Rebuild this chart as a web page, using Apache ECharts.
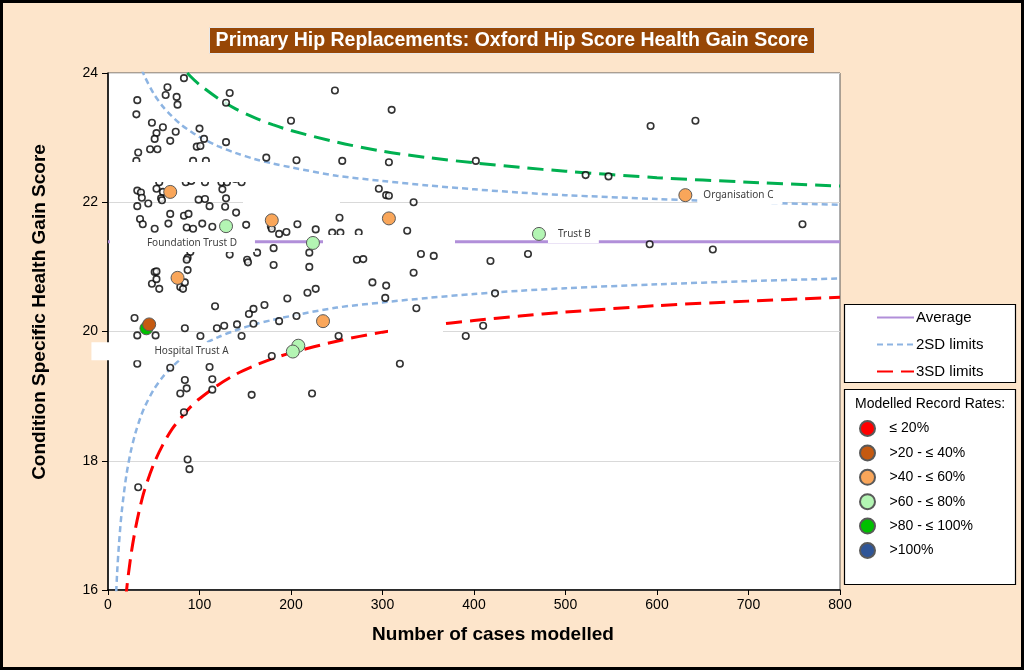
<!DOCTYPE html>
<html>
<head>
<meta charset="utf-8">
<script src="https://cdn.jsdelivr.net/npm/echarts@6/dist/echarts.min.js"></script>
<style>
html,body{margin:0;padding:0;background:#FDE5CB;}
#chart{width:1024px;height:670px;}
</style>
</head>
<body>
<div id="chart"></div>
<script>
// ---------- DATA ----------
const titleText = 'Primary Hip Replacements: Oxford Hip Score Health Gain Score';
const xAxisTitle = 'Number of cases modelled';
const yAxisTitle = 'Condition Specific Health Gain Score';
const xTicks = [0, 100, 200, 300, 400, 500, 600, 700, 800];
const yTicks = [16, 18, 20, 22, 24];

// all organisations (hollow markers)
const trustCases = [83,65,63,75,76,32,31,133,129,248,48,60,53,74,51,68,100,105,97,101,129,33,46,54,200,173,206,256,310,307,402,522,547,593,642,31,93,107,56,85,91,106,124,130,139,146,296,304,307,334,32,36,53,60,37,58,59,44,32,99,106,125,129,111,128,68,83,88,140,35,38,66,103,51,86,93,114,151,178,179,187,195,207,227,253,327,245,254,274,759,459,592,661,418,90,87,133,163,181,220,86,152,153,181,220,272,279,342,356,334,289,304,303,337,319,87,51,53,48,53,56,79,82,84,117,218,227,196,171,159,154,206,187,159,141,127,119,84,29,32,52,101,146,252,179,32,68,111,84,86,79,114,114,157,223,83,87,89,33,410,391,423];
const trustScores = [23.92,23.78,23.66,23.63,23.51,23.58,23.36,23.69,23.54,23.73,23.23,23.16,23.07,23.09,22.98,22.95,23.14,22.98,22.86,22.87,22.93,22.77,22.82,22.82,23.26,22.69,22.65,22.64,23.43,22.62,22.64,22.42,22.40,23.18,23.26,22.64,22.64,22.64,22.31,22.31,22.33,22.31,22.31,22.31,22.36,22.31,22.21,22.11,22.10,22.00,22.18,22.15,22.21,22.16,22.07,22.06,22.03,21.98,21.94,22.04,22.05,22.20,22.06,21.94,21.93,21.82,21.79,21.82,21.84,21.74,21.66,21.67,21.67,21.59,21.61,21.59,21.62,21.65,21.63,21.59,21.51,21.54,21.66,21.58,21.76,21.56,21.53,21.53,21.53,21.66,21.20,21.35,21.27,21.09,21.23,21.14,21.19,21.22,21.29,21.22,21.11,21.11,21.07,21.03,21.00,21.11,21.12,21.20,21.17,20.91,20.76,20.71,20.52,20.36,19.50,20.95,20.92,20.93,20.74,20.81,20.66,20.69,20.66,20.76,20.39,20.60,20.66,20.51,20.41,20.35,20.27,20.24,20.16,20.12,20.11,20.09,20.05,20.05,20.21,19.94,19.94,19.93,19.93,19.93,19.62,19.50,19.44,19.45,19.25,19.12,19.04,19.26,19.10,19.02,19.04,18.75,18.02,17.87,17.59,20.09,19.93,20.59];

// highlighted organisations by modelled record rate
const rateNames = ['\u2264 20%', '>20 - \u2264 40%', '>40 - \u2264 60%', '>60 - \u2264 80%', '>80 - \u2264 100%', '>100%'];
const rateColors = ['#FF0000', '#C55A11', '#F9A65A', '#B3F5B3', '#00C000', '#2F5597'];
const rate20Cases = [];            const rate20Scores = [];
const rate40Cases = [45];          const rate40Scores = [20.11];
const rate60Cases = [68,179,307,631,76,235]; const rate60Scores = [22.16,21.72,21.75,22.11,20.83,20.16];
const rate80Cases = [129,224,471,208,202];   const rate80Scores = [21.63,21.37,21.51,19.78,19.69];
const rate100Cases = [42];         const rate100Scores = [20.05];
const rateOverCases = [];          const rateOverScores = [];

// named organisations: [label, rate group index, index within group]
const namedOrgs = [
  ['Foundation Trust D', 3, 1],
  ['Trust B', 3, 2],
  ['Organisation C', 2, 3],
  ['Hospital Trust A', 4, 0]
];

// average and control limits
const avgCases = [0, 800];
const avgScores = [21.39, 21.39];
const sd2LowCases = [8,10,12,15,20,25,30,35,40,50,60,70,80,90,100,120,140,160,180,200,250,300,350,400,450,500,600,700,800];
const sd2LowScores = [15.66,16.27,16.71,17.21,17.77,18.15,18.43,18.65,18.83,19.10,19.30,19.45,19.58,19.68,19.77,19.91,20.02,20.11,20.18,20.24,20.37,20.45,20.52,20.58,20.63,20.67,20.73,20.78,20.82];
const sd2UpCases = [30,35,40,50,60,70,80,90,100,120,140,160,180,200,250,300,350,400,450,500,600,700,800];
const sd2UpScores = [24.35,24.13,23.95,23.68,23.48,23.33,23.20,23.10,23.01,22.87,22.76,22.67,22.60,22.54,22.41,22.33,22.26,22.20,22.15,22.11,22.05,22.00,21.96];
const sd3LowCases = [15,20,25,30,35,40,50,60,70,80,90,100,120,140,160,180,200,250,300,350,400,450,500,600,700,800];
const sd3LowScores = [15.12,15.96,16.53,16.95,17.28,17.55,17.95,18.25,18.49,18.67,18.83,18.96,19.17,19.34,19.47,19.58,19.67,19.85,19.99,20.09,20.17,20.24,20.30,20.40,20.47,20.53];
const sd3UpCases = [70,80,90,100,120,140,160,180,200,250,300,350,400,450,500,600,700,800];
const sd3UpScores = [24.29,24.11,23.95,23.82,23.61,23.44,23.31,23.20,23.11,22.93,22.79,22.69,22.61,22.54,22.48,22.38,22.31,22.25];

// ---------- BUILD ----------
const zip = (a, b) => a.map((v, i) => [v, b[i]]);
const rateData = [
  zip(rate20Cases, rate20Scores), zip(rate40Cases, rate40Scores), zip(rate60Cases, rate60Scores),
  zip(rate80Cases, rate80Scores), zip(rate100Cases, rate100Scores), zip(rateOverCases, rateOverScores)
];
const F = 'Liberation Sans, Arial, sans-serif';
const labelBase = {show: true, color: '#404040', fontSize: 10, fontFamily: 'Noto Sans, sans-serif', backgroundColor: '#fff'};
const labelStyles = {
  'Foundation Trust D': {position: 'left', distance: 51, padding: [4, 18, 4, 37]},
  'Trust B': {position: 'right', distance: 2, padding: [4, 8, 4, 10]},
  'Organisation C': {position: 'right', distance: 5, padding: [4, 9, 4, 6]},
  'Hospital Trust A': {position: [-48, 21], align: 'left', verticalAlign: 'top', padding: [4, 8, 4, 63]}
};
const rateSeriesData = rateData.map(d => d.map(p => ({value: p})));
namedOrgs.forEach(([name, g, i]) => {
  rateSeriesData[g][i].label = Object.assign({}, labelBase, labelStyles[name], {formatter: name});
});

const lineSeries = (name, cases, scores, color, type, width) => ({
  name, type: 'line', data: zip(cases, scores), symbol: 'none', smooth: 0.3,
  lineStyle: {color, type, width}, itemStyle: {color}, z: 2, silent: true, clip: true
});

const series = [
  lineSeries('Average', avgCases, avgScores, '#B18FD9', 'solid', 3),
  lineSeries('2SD limits', sd2LowCases, sd2LowScores, '#8DB4E2', [6, 4], 2.5),
  lineSeries('2SD limits', sd2UpCases, sd2UpScores, '#8DB4E2', [6, 4], 2.5),
  lineSeries('3SD limits', sd3LowCases, sd3LowScores, '#FF0000', [16, 8], 3),
  lineSeries('3SD limits', sd3UpCases, sd3UpScores, '#00B050', [16, 8], 3),
  {
    name: 'Organisations', type: 'scatter', data: zip(trustCases, trustScores), symbolSize: 6.5,
    itemStyle: {color: '#fff', borderColor: '#000', borderWidth: 1.6}, z: 3, silent: true
  }
];
rateNames.forEach((n, k) => {
  series.push({
    name: n, type: 'scatter', data: rateSeriesData[k], symbolSize: 13,
    itemStyle: {color: rateColors[k], borderColor: '#595959', borderWidth: 1, opacity: 1},
    z: k === 1 ? 6 : 5, silent: true
  });
});

// white boxes of hidden data labels seen in the reference (layout decoration)
const maskRect = (x, y, w, h) => ({type: 'rect', shape: {x, y, width: w, height: h}, style: {fill: '#fff'}, z: 7, silent: true});

const chart = echarts.init(document.getElementById('chart'));
chart.setOption({
  animation: false,
  backgroundColor: '#FDE5CB',
  title: {
    text: titleText, left: 'center', top: 27,
    backgroundColor: '#974706', borderColor: '#E8E8E8', borderWidth: 1, padding: [4, 6, 3, 6],
    textStyle: {color: '#fff', fontSize: 19.5, fontWeight: 'bold', fontFamily: F}
  },
  grid: {left: 108, right: 184, top: 73, bottom: 80, show: true, backgroundColor: '#fff', borderColor: '#595959', borderWidth: 1},
  xAxis: {
    type: 'value', min: 0, max: 800, interval: 100,
    axisLine: {lineStyle: {color: '#000', width: 1.5}},
    axisTick: {inside: false, length: 5, lineStyle: {color: '#000'}},
    axisLabel: {fontSize: 14, color: '#000', fontFamily: F, margin: 8, formatter: v => xTicks.includes(v) ? String(v) : ''},
    splitLine: {show: false}
  },
  yAxis: {
    type: 'value', min: 16, max: 24, interval: 2,
    axisLine: {show: true, lineStyle: {color: '#000', width: 1.5}},
    axisTick: {show: true, inside: false, length: 6, lineStyle: {color: '#000'}},
    axisLabel: {fontSize: 14, color: '#000', fontFamily: F, margin: 10, formatter: v => yTicks.includes(v) ? String(v) : ''},
    splitLine: {show: true, lineStyle: {color: '#D9D9D9', width: 1}}
  },
  legend: [
    {
      data: ['Average', '2SD limits', '3SD limits'], orient: 'vertical', left: 871, top: 305,
      itemWidth: 37, itemHeight: 14, itemGap: 12, selectedMode: false,
      itemStyle: {opacity: 0},
      textStyle: {fontSize: 15, color: '#000', fontFamily: F, padding: [0, 0, 0, -3]}
    },
    {
      data: rateNames, orient: 'vertical', left: 854, top: 415,
      itemWidth: 16, itemHeight: 15, itemGap: 7.4, selectedMode: false, icon: 'circle',
      textStyle: {fontSize: 14, color: '#000', fontFamily: F, padding: [0, 0, 0, 9]}
    }
  ],
  graphic: [
    {type: 'rect', shape: {x: 844.5, y: 304.5, width: 171, height: 78}, style: {fill: '#fff', stroke: '#000', lineWidth: 1.2}, z: 0, silent: true},
    {type: 'rect', shape: {x: 844.5, y: 389.5, width: 171, height: 195}, style: {fill: '#fff', stroke: '#000', lineWidth: 1.2}, z: 0, silent: true},
    {type: 'text', left: 855, top: 397, style: {text: 'Modelled Record Rates:', fontSize: 14, fontFamily: F, fill: '#000'}, z: 1, silent: true},
    {type: 'text', x: 493, y: 635, style: {text: xAxisTitle, align: 'center', verticalAlign: 'middle', font: 'bold 19px Liberation Sans, Arial, sans-serif', fill: '#000'}, silent: true},
    {type: 'text', x: 40, y: 312, rotation: Math.PI / 2, style: {text: yAxisTitle, align: 'center', verticalAlign: 'middle', font: 'bold 19px Liberation Sans, Arial, sans-serif', fill: '#000'}, silent: true},
    maskRect(110, 162, 140, 20),
    maskRect(243, 196, 97, 14),
    maskRect(323, 235, 132, 15),
    maskRect(388, 316, 55, 17),
    {type: 'rect', shape: {x: 1.5, y: 1.5, width: 1021, height: 667}, style: {fill: 'none', stroke: '#000', lineWidth: 3}, z: 10, silent: true}
  ],
  series
});
</script>
</body>
</html>
